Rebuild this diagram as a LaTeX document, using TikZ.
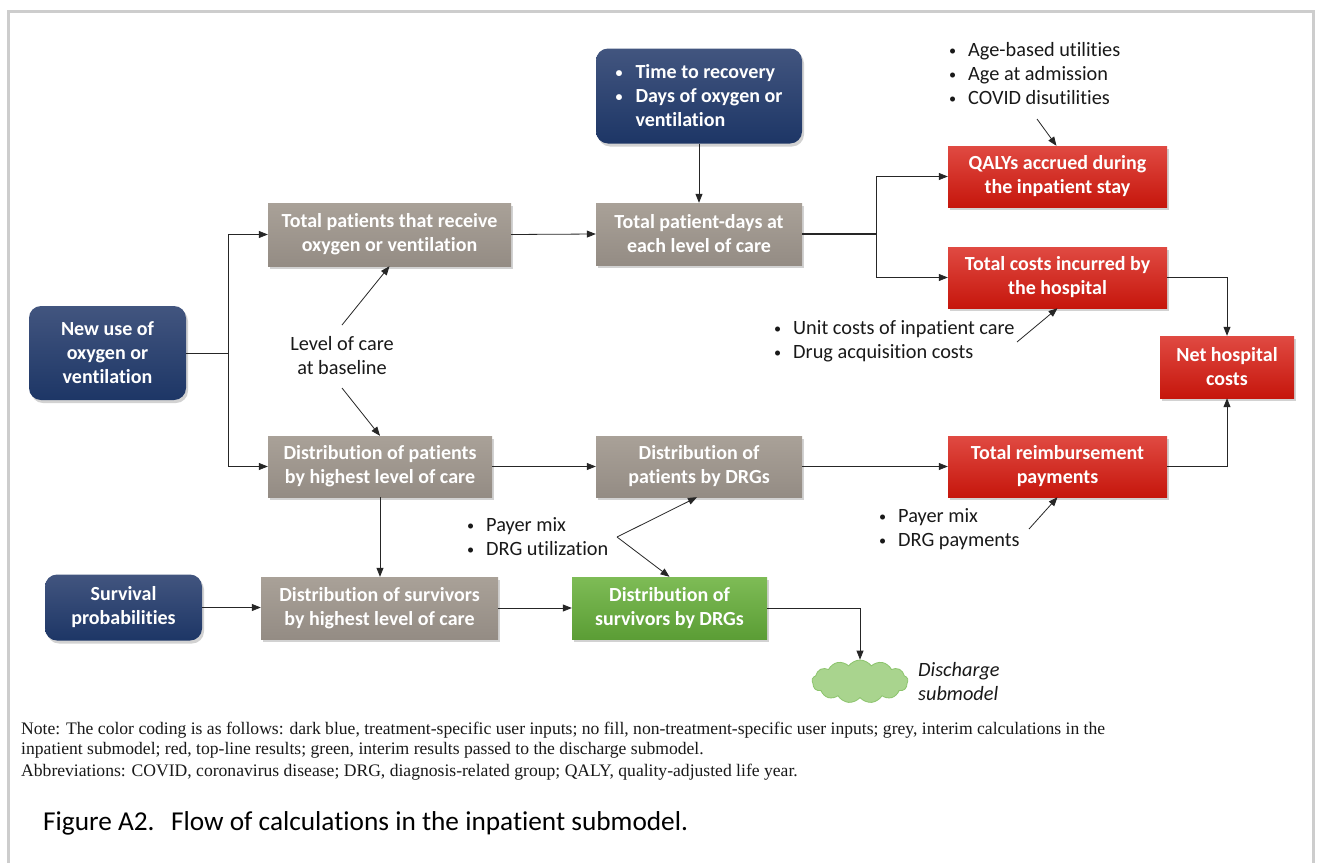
\documentclass[tikz,border=0pt]{standalone}
\usepackage{fontspec}
\setmainfont{Carlito}[Ligatures={NoCommon,NoContextual}]
\newfontfamily\notefont{Liberation Serif}
\usetikzlibrary{shadows,shapes.symbols,arrows.meta,calc}

\definecolor{bluetop}{HTML}{42557F}
\definecolor{bluebot}{HTML}{1D3666}
\definecolor{greytop}{HTML}{A9A198}
\definecolor{greybot}{HTML}{948C84}
\definecolor{redtop}{HTML}{E04A42}
\definecolor{redbot}{HTML}{C6160C}
\definecolor{greentop}{HTML}{7EBC56}
\definecolor{greenbot}{HTML}{5B9D35}
\definecolor{cloudfill}{HTML}{A9D48E}
\definecolor{cloudline}{HTML}{8CC46C}
\definecolor{framegrey}{HTML}{CDCDCD}

\newcommand\smbul{\raisebox{0.05em}{\scalebox{0.7}{\textbullet}}}
\newcommand\bulA{\makebox[19pt][l]{\smbul}}
\newcommand\bulB{\makebox[20pt][l]{\smbul}}

\tikzset{
 box/.style={text=white, font=\fontsize{20}{24}\selectfont\bfseries, align=center, inner sep=0pt,
   drop shadow={opacity=0.35, shadow xshift=2pt, shadow yshift=-3pt}},
 bluebox/.style={box, rounded corners=12pt, top color=bluetop, bottom color=bluebot},
 greybox/.style={box, top color=greytop, bottom color=greybot},
 redbox/.style={box, top color=redtop, bottom color=redbot},
 greenbox/.style={box, top color=greentop, bottom color=greenbot},
 lbl/.style={font=\fontsize{20.3}{24}\selectfont, align=left, inner sep=0pt, text=black!90},
 arr/.style={-{Triangle[length=9pt,width=7pt]}, line width=0.8pt, draw=black!85},
 ln/.style={line width=0.8pt, draw=black!85},
 note/.style={anchor=west, inner sep=0pt, text=black!90, font=\notefont\fontsize{17.6}{20}\selectfont},
}

\begin{document}
\begin{tikzpicture}[x=1pt,y=-1pt]
\useasboundingbox (0,0) rectangle (1319,862);
\fill[white] (0,0) rectangle (1319,862);
\draw[framegrey, line width=3pt] (8,864) -- (8,11) -- (1313,11) -- (1313,864);

% nodes
\node[bluebox, minimum width=157pt, minimum height=94pt] (newuse) at (107.5,353) {New use of\\oxygen or\\ventilation};
\node[bluebox, minimum width=206pt, minimum height=95pt, align=left] (recov) at (699,96) {\bulB Time to recovery\\\bulB Days of oxygen or\\\hspace*{20pt}ventilation};
\node[greybox, minimum width=243pt, minimum height=63pt] (patients) at (389.5,234.5) {Total patients that receive\\oxygen or ventilation};
\node[greybox, minimum width=206pt, minimum height=62pt] (patientdays) at (699,234) {Total patient-days at\\each level of care};
\node[redbox, minimum width=219pt, minimum height=61pt] (qaly) at (1057.5,176.5) {QALYs accrued during\\the inpatient stay};
\node[redbox, minimum width=219pt, minimum height=61pt] (costs) at (1057.5,277.5) {Total costs incurred by\\the hospital};
\node[redbox, minimum width=134pt, minimum height=62pt] (net) at (1227,367) {Net hospital\\costs};
\node[greybox, minimum width=224pt, minimum height=61pt] (distpat) at (380,466.5) {Distribution of patients\\by highest level of care};
\node[greybox, minimum width=206pt, minimum height=61pt] (distdrg) at (699,466.5) {Distribution of\\patients by DRGs};
\node[redbox, minimum width=219pt, minimum height=61pt] (reimb) at (1057.5,466.5) {Total reimbursement\\payments};
\node[bluebox, minimum width=157pt, minimum height=66pt] (survival) at (123.5,607.5) {Survival\\probabilities};
\node[greybox, minimum width=237pt, minimum height=62pt] (distsurv) at (379.5,608) {Distribution of survivors\\by highest level of care};
\node[greenbox, minimum width=195pt, minimum height=62pt] (green) at (669.5,608) {Distribution of\\survivors by DRGs};
\node[cloud, cloud puffs=13, cloud puff arc=110, aspect=2.3, minimum width=96pt, minimum height=43pt,
      fill=cloudfill, draw=cloudline, line width=0.8pt, inner sep=0pt] (cloud) at (860,681.5) {};

% labels
\node[lbl, align=center] (lvl) at (342,356) {Level of care\\at baseline};
\node[lbl, anchor=west] (agelbl) at (949,74) {\bulA Age-based utilities\\\bulA Age at admission\\\bulA COVID disutilities};
\node[lbl, anchor=west] (unitlbl) at (774,341) {\bulA Unit costs of inpatient care\\\bulA Drug acquisition costs};
\node[lbl, anchor=west] (payR) at (879,529.5) {\bulA Payer mix\\\bulA DRG payments};
\node[lbl, anchor=west] (payL) at (467,537) {\bulA Payer mix\\\bulA DRG utilization};
\node[lbl, anchor=west, font=\fontsize{20.3}{24}\selectfont\itshape] (disch) at (918,682) {Discharge\\submodel};

% connectors
\coordinate (j1) at (228,353);
\draw[ln] (newuse.east) -- (j1);
\draw[arr] (j1) |- (patients.west);
\draw[arr] (j1) |- (distpat.west);
\draw[arr] (patients.east) -- (patientdays.west);
\draw[arr] (recov.south) -- (patientdays.north);
\coordinate (j2) at (876,234);
\draw[ln, line width=1.5pt] (patientdays.east) -- (j2);
\draw[arr] (j2) |- (qaly.west);
\draw[arr] (j2) |- (costs.west);
\draw[arr] (costs.east) -| (net.north);
\draw[arr] (reimb.east) -| (net.south);
\draw[arr] (distpat.east) -- (distdrg.west);
\draw[arr] (distdrg.east) -- (reimb.west);
\draw[arr] (distpat.south) -- (distsurv.north -| distpat.south);
\draw[arr] (survival.east) -- (survival.east -| distsurv.west);
\draw[arr] (distsurv.east) -- (green.west);
\draw[arr] (green.east) -| (cloud.north);

\coordinate (lvlup) at (342,325);
\coordinate (lvldn) at (342,388);
\draw[arr] (lvlup) -- (patients.south);
\draw[arr] (lvldn) -- (distpat.north);
\coordinate (agept) at (1037,119);
\draw[arr] (agept) -- ([xshift=-1pt]qaly.north);
\coordinate (unitpt) at (1017,342);
\draw[arr] (unitpt) -- (costs.south);
\coordinate (payRpt) at (1029,529);
\draw[arr] (payRpt) -- (reimb.south);
\coordinate (payLpt) at (617,537);
\draw[arr] (payLpt) -- ([xshift=-2pt]distdrg.south);
\draw[arr] (payLpt) -- (green.north);

% note and caption
\node[note] (note1) at (21,730) {Note: The color coding is as follows: dark blue, treatment-specific user inputs; no fill, non-treatment-specific user inputs; grey, interim calculations in the};
\node[note] (note2) at (21,750) {inpatient submodel; red, top-line results; green, interim results passed to the discharge submodel.};
\node[note] (note3) at (21,772) {Abbreviations: COVID, coronavirus disease; DRG, diagnosis-related group; QALY, quality-adjusted life year.};
\node[anchor=west, inner sep=0pt, font=\fontsize{27.3}{30}\selectfont] (cap) at (43,823) {Figure A2.\hspace{0.3em} Flow of calculations in the inpatient submodel.};
\end{tikzpicture}
\end{document}
